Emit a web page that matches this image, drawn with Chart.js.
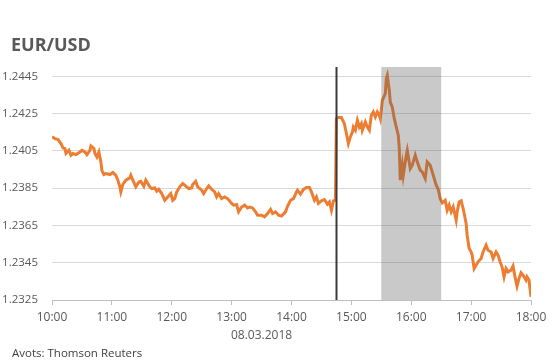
<!DOCTYPE html>
<html lang="lv">
<head>
    <meta charset="UTF-8">
    <title>EUR/USD</title>
    <script src="https://cdn.jsdelivr.net/npm/chart.js"></script>
    <style>
        html, body { margin: 0; padding: 0; background: #fff; }
        canvas { display: block; }
    </style>
</head>
<body>
    <canvas id="myChart" width="554" height="360"></canvas>

    <script>
        // minūtes kopš 10:00 un EUR/USD kurss
        const minutes = [
            0, 3, 6, 9, 11, 13, 14, 17, 19, 21, 24, 28, 30, 33, 35, 38, 39, 42, 43, 45,
            47, 49, 50, 52, 54, 58, 61, 64, 66, 68, 69, 71, 74, 78, 79, 81, 84, 87, 89, 92,
            94, 98, 100, 103, 105, 107, 110, 113, 116, 119, 121, 123, 125, 128, 131, 135, 137, 140, 141, 144,
            146, 150, 152, 155, 157, 160, 163, 165, 167, 170, 173, 176, 180, 182, 185, 187, 190, 193, 196, 198,
            201, 204, 206, 210, 213, 216, 219, 221, 224, 227, 230, 234, 236, 239, 242, 245, 246, 249, 252, 255,
            258, 260, 263, 265, 267, 270, 273, 276, 278, 280, 282, 284, 285, 287, 290, 293, 295, 297, 299, 301,
            302, 304, 306, 308, 310, 311, 314, 316, 318, 320, 322, 324, 326, 328, 329, 331, 334, 335, 336, 338,
            339, 341, 343, 345, 347, 348, 349, 351, 352, 355, 356, 359, 361, 364, 366, 369, 371, 374, 376, 379,
            381, 383, 385, 387, 389, 391, 394, 396, 398, 400, 402, 405, 406, 408, 410, 412, 415, 416, 418, 420,
            421, 423, 425, 427, 430, 432, 435, 437, 440, 442, 445, 447, 449, 451, 453, 455, 457, 460, 462, 464,
            466, 468, 470, 472, 475, 476, 478, 480
        ];
        const eurusd = [
            1.24125, 1.24116, 1.24111, 1.24089, 1.24066, 1.24062, 1.24036, 1.24053, 1.24027, 1.24036,
            1.24030, 1.24044, 1.24053, 1.24044, 1.24030, 1.24053, 1.24076, 1.24062, 1.24036, 1.24017,
            1.24044, 1.23991, 1.23946, 1.23923, 1.23928, 1.23923, 1.23934, 1.23919, 1.23893, 1.23857,
            1.23830, 1.23870, 1.23893, 1.23905, 1.23919, 1.23893, 1.23857, 1.23883, 1.23887, 1.23860,
            1.23893, 1.23857, 1.23848, 1.23851, 1.23834, 1.23844, 1.23821, 1.23785, 1.23803, 1.23821,
            1.23785, 1.23794, 1.23830, 1.23857, 1.23875, 1.23857, 1.23848, 1.23851, 1.23870, 1.23887,
            1.23857, 1.23839, 1.23821, 1.23848, 1.23862, 1.23844, 1.23830, 1.23803, 1.23821, 1.23794,
            1.23803, 1.23794, 1.23768, 1.23759, 1.23762, 1.23723, 1.23749, 1.23759, 1.23744, 1.23749,
            1.23744, 1.23723, 1.23705, 1.23705, 1.23696, 1.23714, 1.23736, 1.23714, 1.23723, 1.23705,
            1.23700, 1.23723, 1.23753, 1.23785, 1.23794, 1.23830, 1.23839, 1.23818, 1.23843, 1.23853,
            1.23853, 1.23830, 1.23785, 1.23803, 1.23768, 1.23782, 1.23789, 1.23764, 1.23776, 1.23732,
            1.23782, 1.23785, 1.24223, 1.24229, 1.24229, 1.24196, 1.24143, 1.24089, 1.24125, 1.24151,
            1.24178, 1.24161, 1.24214, 1.24178, 1.24196, 1.24161, 1.24205, 1.24178, 1.24161, 1.24241,
            1.24259, 1.24232, 1.24259, 1.24241, 1.24223, 1.24321, 1.24357, 1.24438, 1.24455, 1.24375,
            1.24312, 1.24285, 1.24223, 1.24178, 1.24134, 1.24062, 1.23893, 1.23973, 1.23919, 1.24027,
            1.24053, 1.23955, 1.23973, 1.24027, 1.23991, 1.23946, 1.23937, 1.23902, 1.23991, 1.23973,
            1.23937, 1.23902, 1.23866, 1.23844, 1.23794, 1.23771, 1.23785, 1.23732, 1.23759, 1.23723,
            1.23749, 1.23678, 1.23723, 1.23776, 1.23782, 1.23741, 1.23661, 1.23598, 1.23527, 1.23508,
            1.23491, 1.23419, 1.23437, 1.23455, 1.23473, 1.23508, 1.23544, 1.23517, 1.23508, 1.23473,
            1.23508, 1.23491, 1.23455, 1.23428, 1.23374, 1.23419, 1.23401, 1.23410, 1.23432, 1.23374,
            1.23324, 1.23366, 1.23396, 1.23383, 1.23357, 1.23374, 1.23357, 1.23267
        ];
        const hourLabels = ['10:00', '11:00', '12:00', '13:00', '14:00', '15:00', '16:00', '17:00', '18:00'];
        const yTicks = [1.2325, 1.2345, 1.2365, 1.2385, 1.2405, 1.2425, 1.2445];

        // ECB paziņojums (14:45) un preses konference (15:30-16:30)
        const announceMin = 285;
        const bandMin = [330, 390];
        const dateLabel = '08.03.2018';
        const dateAtMin = 210;

        const FONT = '"Open Sans", "Noto Sans", sans-serif';

        const extras = {
            id: 'extras',
            afterDatasetsDraw(chart) {
                const { ctx, chartArea, scales } = chart;
                const x = scales.x;
                ctx.save();
                // pelēkā josla
                const x0 = x.getPixelForValue(bandMin[0]);
                const x1 = x.getPixelForValue(bandMin[1]);
                ctx.fillStyle = 'rgba(90, 90, 90, 0.33)';
                ctx.fillRect(x0, chartArea.top, x1 - x0, chartArea.bottom - chartArea.top);
                // vertikālā līnija
                const xl = Math.round(x.getPixelForValue(announceMin)) + 0.5;
                ctx.strokeStyle = '#3a3a3a';
                ctx.lineWidth = 2;
                ctx.beginPath();
                ctx.moveTo(xl, chartArea.top);
                ctx.lineTo(xl, chartArea.bottom);
                ctx.stroke();
                ctx.restore();
            },
            afterDraw(chart) {
                const { ctx, scales } = chart;
                ctx.save();
                ctx.fillStyle = '#595959';
                ctx.font = 'bold 18px ' + FONT;
                ctx.textAlign = 'left';
                ctx.textBaseline = 'alphabetic';
                ctx.fillText('EUR/USD', 11, 51);

                ctx.font = '12px ' + FONT;
                ctx.textAlign = 'center';
                ctx.fillText(dateLabel, scales.x.getPixelForValue(dateAtMin), 339);

                ctx.fillStyle = '#404040';
                ctx.font = '11.5px ' + FONT;
                ctx.textAlign = 'left';
                ctx.fillText('Avots: Thomson Reuters', 12, 357);
                ctx.restore();
            }
        };

        const ctx = document.getElementById('myChart').getContext('2d');
        new Chart(ctx, {
            type: 'line',
            data: {
                datasets: [{
                    data: minutes.map((m, i) => ({ x: m, y: eurusd[i] })),
                    borderColor: '#ED7D31',
                    borderWidth: 3,
                    pointRadius: 0,
                    tension: 0,
                    fill: false
                }]
            },
            options: {
                responsive: false,
                animation: false,
                layout: { padding: { top: 67, right: 23, left: 0, bottom: 0 } },
                plugins: {
                    legend: { display: false },
                    tooltip: { enabled: false }
                },
                scales: {
                    x: {
                        type: 'linear',
                        min: 0,
                        max: 480,
                        afterFit(scale) { scale.height = 60; },
                        afterBuildTicks(scale) {
                            scale.ticks = hourLabels.map((_, i) => ({ value: i * 60 }));
                        },
                        ticks: {
                            callback: (v) => hourLabels[Math.round(v / 60)],
                            color: '#595959',
                            font: { family: FONT, size: 12 },
                            padding: 5,
                            maxRotation: 0
                        },
                        grid: {
                            drawOnChartArea: false,
                            drawTicks: true,
                            tickLength: 5,
                            color: '#bfbfbf'
                        },
                        border: { color: '#bfbfbf' }
                    },
                    y: {
                        min: 1.2325,
                        max: 1.245,
                        afterFit(scale) { scale.width = 52; },
                        afterBuildTicks(scale) {
                            scale.ticks = yTicks.map(v => ({ value: v }));
                        },
                        ticks: {
                            callback: (v) => v.toFixed(4),
                            color: '#595959',
                            font: { family: FONT, size: 11.5 },
                            padding: 14
                        },
                        grid: {
                            color: '#d9d9d9',
                            drawTicks: false
                        },
                        border: { display: false }
                    }
                }
            },
            plugins: [extras]
        });
    </script>
</body>
</html>
